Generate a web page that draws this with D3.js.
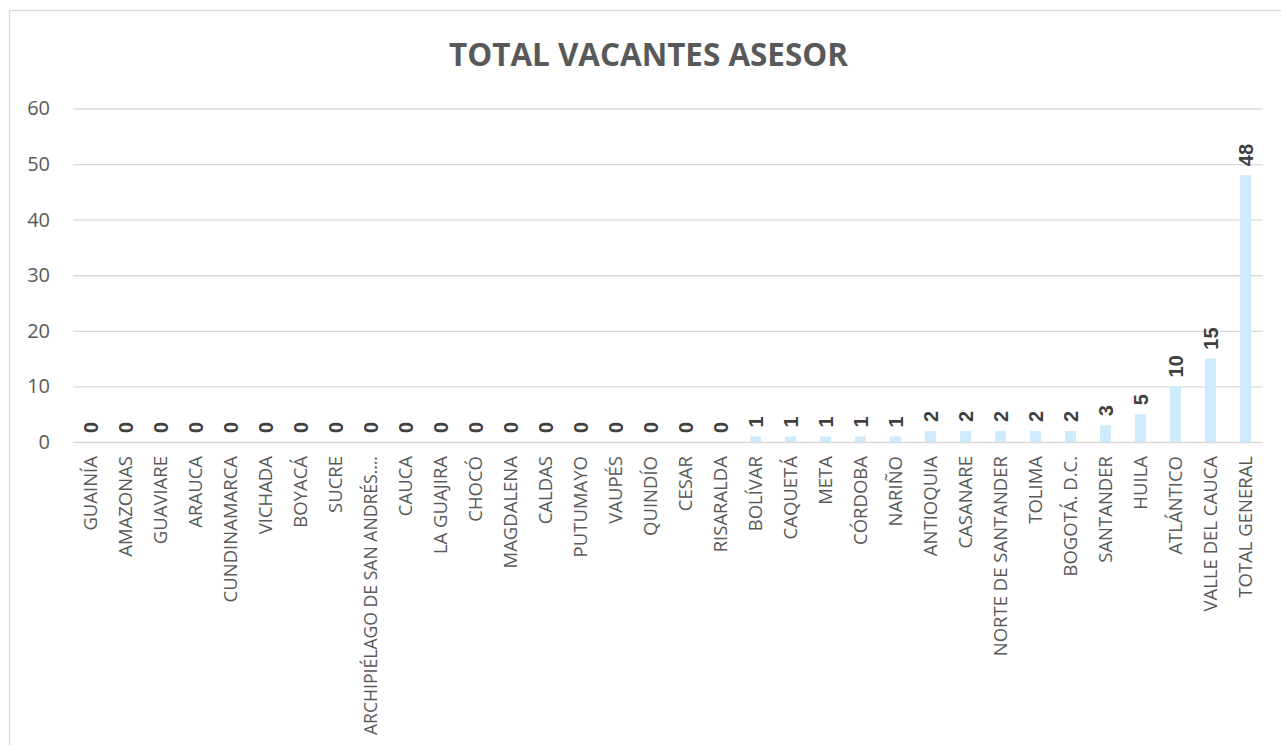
<!DOCTYPE html>
<html>
<head>
<meta charset="utf-8">
<script src="https://cdn.jsdelivr.net/npm/d3@7"></script>
<style>
  html, body { margin: 0; padding: 0; background: #fff; }
  svg { display: block; }
</style>
</head>
<body>
<svg id="chart" width="1281" height="745"></svg>
<script>
const categories = ["GUAINÍA","AMAZONAS","GUAVIARE","ARAUCA","CUNDINAMARCA","VICHADA","BOYACÁ","SUCRE","ARCHIPIÉLAGO DE SAN ANDRÉS….","CAUCA","LA GUAJIRA","CHOCÓ","MAGDALENA","CALDAS","PUTUMAYO","VAUPÉS","QUINDÍO","CESAR","RISARALDA","BOLÍVAR","CAQUETÁ","META","CÓRDOBA","NARIÑO","ANTIOQUIA","CASANARE","NORTE DE SANTANDER","TOLIMA","BOGOTÁ. D.C.","SANTANDER","HUILA","ATLÁNTICO","VALLE DEL CAUCA","TOTAL GENERAL"];
const values = [0,0,0,0,0,0,0,0,0,0,0,0,0,0,0,0,0,0,0,1,1,1,1,1,2,2,2,2,2,3,5,10,15,48];
const yTicks = [0,10,20,30,40,50,60];
const title = "TOTAL VACANTES ASESOR";

const svg = d3.select("#chart");
const plot = {left: 73, right: 1263, top: 108.5, bottom: 442};

// chart border
svg.append("rect").attr("x", 9.5).attr("y", 10.5).attr("width", 1400).attr("height", 900)
  .attr("fill", "none").attr("stroke", "#d9d9d9").attr("stroke-width", 1.3);

const x = d3.scaleBand().domain(categories).range([plot.left, plot.right])
  .paddingInner(0.686).paddingOuter(0.343);
const y = d3.scaleLinear().domain([0, 60]).range([plot.bottom, plot.top]);

// gridlines + y labels
const yAxis = d3.axisLeft(y).tickValues(yTicks).tickSize(-(plot.right - plot.left)).tickPadding(23).tickFormat(d3.format("d"));
const gy = svg.append("g").attr("transform", `translate(${plot.left},0)`).call(yAxis);
gy.select(".domain").remove();
gy.selectAll(".tick line").attr("stroke", "#d9d9d9").attr("stroke-width", 1.3);
gy.selectAll(".tick text").attr("fill", "#595959").style("font-family", "'Open Sans', sans-serif").style("font-size", "20px");

// bars
svg.append("g").selectAll("rect").data(values).join("rect")
  .attr("x", (d, i) => x(categories[i]))
  .attr("y", d => y(d))
  .attr("width", x.bandwidth())
  .attr("height", d => y(0) - y(d))
  .attr("fill", "#cdebfc");

// value labels
svg.append("g").selectAll("text").data(values).join("text")
  .attr("transform", (d, i) => `translate(${x(categories[i]) + x.bandwidth() / 2},${y(d) - 9}) rotate(-90)`)
  .attr("dy", "0.36em")
  .attr("text-anchor", "start")
  .attr("fill", "#404040")
  .style("font-family", "'Liberation Sans', Arial, sans-serif")
  .style("font-weight", "bold")
  .style("font-size", "20px")
  .text(d => d);

// category labels
const catLabels = svg.append("g").selectAll("text").data(categories).join("text")
  .attr("transform", d => `translate(${x(d) + x.bandwidth() / 2},456) rotate(-90)`)
  .attr("dy", "0.36em")
  .attr("text-anchor", "end")
  .attr("fill", "#595959")
  .style("font-family", "'Open Sans', sans-serif")
  .style("font-size", "18.5px")
  .text(d => d);
// keep the long truncated label within the chart frame (reference ends near y=735)
catLabels.each(function() {
  const len = this.getComputedTextLength();
  if (len > 279) d3.select(this).attr("textLength", 279).attr("lengthAdjust", "spacingAndGlyphs");
});

// title
svg.append("text")
  .attr("x", 648.5).attr("y", 66)
  .attr("text-anchor", "middle")
  .attr("fill", "#595959")
  .style("font-family", "'Open Sans', sans-serif")
  .style("font-weight", "bold")
  .style("font-size", "31.4px")
  .text(title);
</script>
</body>
</html>
